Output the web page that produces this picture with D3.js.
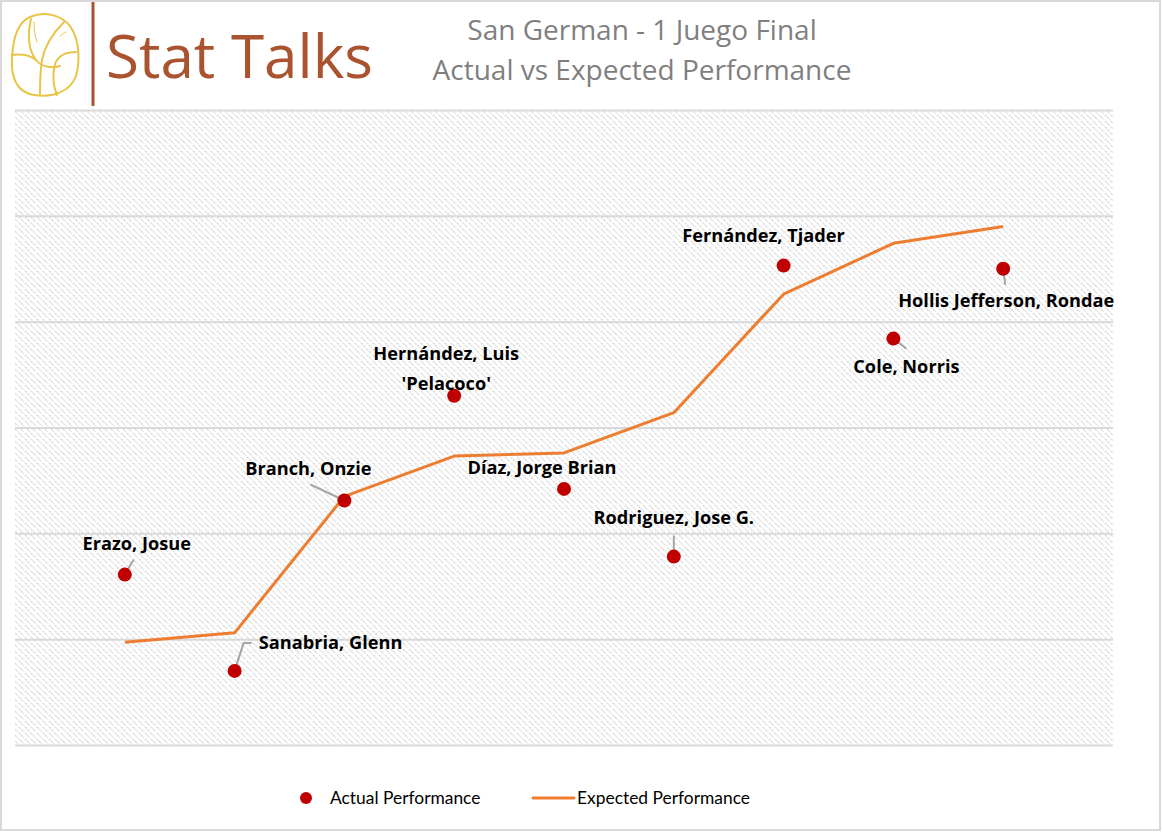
<!DOCTYPE html>
<html>
<head>
<meta charset="utf-8">
<script src="https://cdn.jsdelivr.net/npm/d3@7"></script>
<style>
  html, body { margin: 0; padding: 0; background: #fff; }
  svg { display: block; }
</style>
</head>
<body>
<svg id="chart" width="1163" height="832"></svg>
<script>
// chart data
const players = ["Erazo, Josue", "Sanabria, Glenn", "Branch, Onzie", "Hernández, Luis|'Pelacoco'",
  "Díaz, Jorge Brian", "Rodriguez, Jose G.", "Fernández, Tjader", "Cole, Norris", "Hollis Jefferson, Rondae"];
const actual = [1.61, 0.70, 2.31, 3.30, 2.42, 1.78, 4.53, 3.84, 4.50];
const expected = [0.97, 1.06, 2.35, 2.73, 2.76, 3.14, 4.26, 4.74, 4.90];
const yTicks = [0, 1, 2, 3, 4, 5, 6];
const titleLines = ["San German - 1 Juego Final", "Actual vs Expected Performance"];
const legendLabels = ["Actual Performance", "Expected Performance"];

// label placement, relative to each dot: text centre + optional leader end
const labelPos = [
  {dx: 12, dy: -31, leader: [[9, -15]]},
  {dx: 96, dy: -28, leader: [[9, -28], [17, -28]]},
  {dx: -36, dy: -32, leader: [[-34, -16]]},
  {dx: -8, dy: -42, leader: null},
  {dx: -22, dy: -21, leader: null},
  {dx: 0, dy: -39, leader: [[0, -21]]},
  {dx: -20, dy: -30, leader: null},
  {dx: 13, dy: 28, leader: [[13, 10]]},
  {dx: 3, dy: 32, leader: [[2, 16]]}
];

const W = 1163, H = 832;
const plot = {left: 15, right: 1113, top: 110, bottom: 745};
const svg = d3.select("#chart");

// outer border
svg.append("rect").attr("x", 1).attr("y", 1).attr("width", W - 4).attr("height", H - 3)
  .attr("fill", "#fff").attr("stroke", "#d9d9d9").attr("stroke-width", 2);

// hatch pattern for plot area
const defs = svg.append("defs");
const pat = defs.append("pattern").attr("id", "hatch").attr("patternUnits", "userSpaceOnUse")
  .attr("width", 6).attr("height", 6);
pat.append("rect").attr("width", 6).attr("height", 6).attr("fill", "#fff");
pat.append("path").attr("d", "M-1,-1 L7,7 M-4,2 L1,7 M2,-4 L7,1")
  .attr("stroke", "#d4d4d4").attr("stroke-width", 1.3).attr("stroke-dasharray", "2,1");

const x = d3.scalePoint().domain(d3.range(players.length))
  .range([plot.left, plot.right]).padding(1);
const y = d3.scaleLinear().domain([0, 6]).range([plot.bottom, plot.top]);

svg.append("rect").attr("x", plot.left).attr("y", plot.top)
  .attr("width", plot.right - plot.left).attr("height", plot.bottom - plot.top)
  .attr("fill", "url(#hatch)");

// gridlines
svg.append("g").attr("transform", `translate(${plot.left},0)`)
  .call(d3.axisRight(y).tickValues(yTicks).tickSize(plot.right - plot.left).tickFormat(""))
  .call(g => g.select(".domain").remove())
  .call(g => g.selectAll(".tick line").attr("stroke", "#d9d9d9").attr("stroke-width", 2));

// expected line
const line = d3.line().x((d, i) => x(i)).y(d => y(d));
svg.append("path").datum(expected).attr("d", line)
  .attr("fill", "none").attr("stroke", "#ed7d31").attr("stroke-width", 3)
  .attr("stroke-linejoin", "round");

// leader lines
const leaders = svg.append("g");
actual.forEach((v, i) => {
  const lp = labelPos[i];
  if (!lp.leader) return;
  const cx = x(i), cy = y(v);
  const pts = [[cx, cy]].concat(lp.leader.map(p => [cx + p[0], cy + p[1]]));
  leaders.append("path").attr("d", d3.line()(pts))
    .attr("fill", "none").attr("stroke", "#a6a6a6").attr("stroke-width", 2);
});

// actual dots
svg.append("g").selectAll("circle").data(actual).join("circle")
  .attr("cx", (d, i) => x(i)).attr("cy", d => y(d)).attr("r", 7)
  .attr("fill", "#c00000");

// labels
const labels = svg.append("g").attr("font-family", "'Open Sans', Lato, sans-serif")
  .attr("font-weight", "bold").attr("font-size", 18.2).attr("fill", "#000")
  .attr("text-anchor", "middle");
players.forEach((name, i) => {
  const lp = labelPos[i];
  const t = labels.append("text")
    .attr("x", x(i) + lp.dx).attr("y", y(actual[i]) + lp.dy);
  name.split("|").forEach((s, k) => {
    t.append("tspan").attr("x", x(i) + lp.dx).attr("dy", k === 0 ? "0.35em" : 30).text(s);
  });
});

// title
svg.append("g").attr("font-family", "'Open Sans', sans-serif").attr("font-size", 28)
  .attr("fill", "#7f7f7f").attr("text-anchor", "middle")
  .selectAll("text").data(titleLines).join("text")
  .attr("x", 642).attr("y", (d, i) => 40 + i * 40).text(d => d);

// logo
const logo = svg.append("g").attr("fill", "none").attr("stroke", "#e8c547")
  .attr("stroke-width", 2).attr("stroke-linecap", "round");
logo.append("path").attr("d",
  "M30,17 C45,10 62,16 70,26 C80,40 80,62 76,76 C70,92 52,98 34,95 C16,92 11,76 12,58 C13,38 18,22 30,17 Z");
logo.append("path").attr("d", "M31,19 C28,32 27,48 36,60 C42,68 54,68 60,66");
logo.append("path").attr("d", "M64,22 C54,32 45,44 42,60 C40,72 40,84 40,95");
logo.append("path").attr("d", "M12,55 C20,54 30,55 36,60");
logo.append("path").attr("d", "M76,52 C66,52 58,56 55,64 C52,76 54,88 57,95");
logo.append("path").attr("d", "M34,22 C34,30 35,36 37,42").attr("stroke-width", 1);
logo.append("path").attr("d", "M60,36 C62,34 64,33 66,32").attr("stroke-width", 1);

svg.append("line").attr("x1", 93).attr("x2", 93).attr("y1", 2).attr("y2", 106)
  .attr("stroke", "#a9532f").attr("stroke-width", 3);
svg.append("text").attr("x", 106).attr("y", 78)
  .attr("font-family", "'Open Sans', sans-serif").attr("font-size", 60)
  .attr("fill", "#a9532f").attr("textLength", 267).attr("lengthAdjust", "spacingAndGlyphs")
  .text("Stat Talks");

// legend
const lg = svg.append("g").attr("font-family", "Lato, 'Open Sans', sans-serif")
  .attr("font-size", 17.4).attr("fill", "#000");
lg.append("circle").attr("cx", 306).attr("cy", 798).attr("r", 6).attr("fill", "#c00000");
lg.append("text").attr("x", 330).attr("y", 798).attr("dy", "0.35em").text(legendLabels[0]);
lg.append("line").attr("x1", 533).attr("x2", 574).attr("y1", 798).attr("y2", 798)
  .attr("stroke", "#ed7d31").attr("stroke-width", 3).attr("stroke-linecap", "round");
lg.append("text").attr("x", 577).attr("y", 798).attr("dy", "0.35em").text(legendLabels[1]);
</script>
</body>
</html>
